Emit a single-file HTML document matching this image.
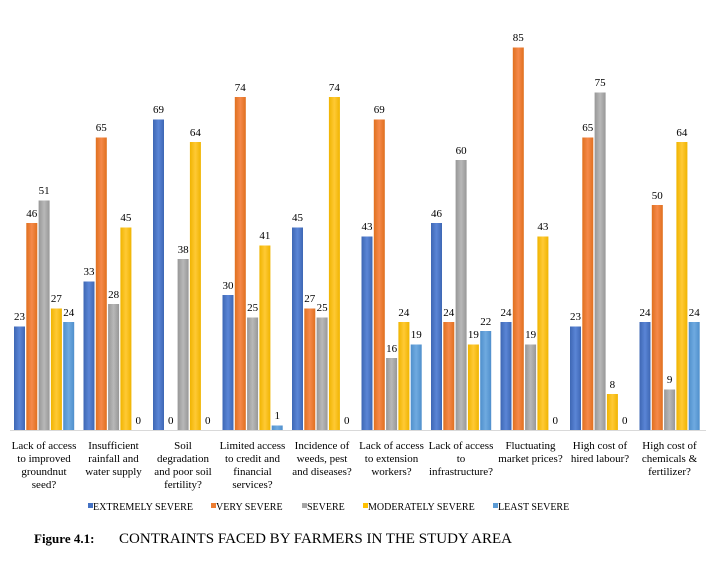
<!DOCTYPE html>
<html><head><meta charset="utf-8"><style>
body{margin:0;background:#fff}
svg{display:block;font-family:"Liberation Serif",serif}
</style></head><body>
<svg width="719" height="580" xmlns="http://www.w3.org/2000/svg">
<defs>
<linearGradient id="b1" x1="0" x2="1"><stop offset="0" stop-color="#3e67b4"/><stop offset=".5" stop-color="#5a85d6"/><stop offset="1" stop-color="#3e67b4"/></linearGradient>
<linearGradient id="b2" x1="0" x2="1"><stop offset="0" stop-color="#e0701f"/><stop offset=".5" stop-color="#f5894a"/><stop offset="1" stop-color="#e0701f"/></linearGradient>
<linearGradient id="b3" x1="0" x2="1"><stop offset="0" stop-color="#979797"/><stop offset=".5" stop-color="#b8b8b8"/><stop offset="1" stop-color="#979797"/></linearGradient>
<linearGradient id="b4" x1="0" x2="1"><stop offset="0" stop-color="#f0b400"/><stop offset=".5" stop-color="#ffc935"/><stop offset="1" stop-color="#f0b400"/></linearGradient>
<linearGradient id="b5" x1="0" x2="1"><stop offset="0" stop-color="#4f8fcc"/><stop offset=".5" stop-color="#6faae0"/><stop offset="1" stop-color="#4f8fcc"/></linearGradient>
</defs>
<line x1="10" y1="430.5" x2="706" y2="430.5" stroke="#d9d9d9"/>
<g font-size="11" text-anchor="middle" fill="#000">
<g transform="translate(14,0)">
<rect x="0" y="326.5" width="11" height="103.5" fill="url(#b1)"/><rect x="12.3" y="223" width="11" height="207" fill="url(#b2)"/><rect x="24.6" y="200.5" width="11" height="229.5" fill="url(#b3)"/><rect x="36.9" y="308.5" width="11" height="121.5" fill="url(#b4)"/><rect x="49.2" y="322" width="11" height="108" fill="url(#b5)"/>
<text x="5.5" y="320">23</text><text x="17.8" y="217">46</text><text x="30.1" y="194">51</text><text x="42.4" y="302">27</text><text x="54.7" y="316">24</text>
<text x="30" y="449">Lack of access</text><text x="30" y="462">to improved</text><text x="30" y="475">groundnut</text><text x="30" y="488">seed?</text>
</g>
<g transform="translate(83.5,0)">
<rect x="0" y="281.5" width="11" height="148.5" fill="url(#b1)"/><rect x="12.3" y="137.5" width="11" height="292.5" fill="url(#b2)"/><rect x="24.6" y="304" width="11" height="126" fill="url(#b3)"/><rect x="36.9" y="227.5" width="11" height="202.5" fill="url(#b4)"/>
<text x="5.5" y="275">33</text><text x="17.8" y="131">65</text><text x="30.1" y="298">28</text><text x="42.4" y="221">45</text><text x="54.7" y="424">0</text>
<text x="30" y="449">Insufficient</text><text x="30" y="462">rainfall and</text><text x="30" y="475">water supply</text>
</g>
<g transform="translate(153,0)">
<rect x="0" y="119.5" width="11" height="310.5" fill="url(#b1)"/><rect x="24.6" y="259" width="11" height="171" fill="url(#b3)"/><rect x="36.9" y="142" width="11" height="288" fill="url(#b4)"/>
<text x="5.5" y="113">69</text><text x="17.8" y="424">0</text><text x="30.1" y="253">38</text><text x="42.4" y="136">64</text><text x="54.7" y="424">0</text>
<text x="30" y="449">Soil</text><text x="30" y="462">degradation</text><text x="30" y="475">and poor soil</text><text x="30" y="488">fertility?</text>
</g>
<g transform="translate(222.5,0)">
<rect x="0" y="295" width="11" height="135" fill="url(#b1)"/><rect x="12.3" y="97" width="11" height="333" fill="url(#b2)"/><rect x="24.6" y="317.5" width="11" height="112.5" fill="url(#b3)"/><rect x="36.9" y="245.5" width="11" height="184.5" fill="url(#b4)"/><rect x="49.2" y="425.5" width="11" height="4.5" fill="url(#b5)"/>
<text x="5.5" y="289">30</text><text x="17.8" y="91">74</text><text x="30.1" y="311">25</text><text x="42.4" y="239">41</text><text x="54.7" y="419">1</text>
<text x="30" y="449">Limited access</text><text x="30" y="462">to credit and</text><text x="30" y="475">financial</text><text x="30" y="488">services?</text>
</g>
<g transform="translate(292,0)">
<rect x="0" y="227.5" width="11" height="202.5" fill="url(#b1)"/><rect x="12.3" y="308.5" width="11" height="121.5" fill="url(#b2)"/><rect x="24.6" y="317.5" width="11" height="112.5" fill="url(#b3)"/><rect x="36.9" y="97" width="11" height="333" fill="url(#b4)"/>
<text x="5.5" y="221">45</text><text x="17.8" y="302">27</text><text x="30.1" y="311">25</text><text x="42.4" y="91">74</text><text x="54.7" y="424">0</text>
<text x="30" y="449">Incidence of</text><text x="30" y="462">weeds, pest</text><text x="30" y="475">and diseases?</text>
</g>
<g transform="translate(361.5,0)">
<rect x="0" y="236.5" width="11" height="193.5" fill="url(#b1)"/><rect x="12.3" y="119.5" width="11" height="310.5" fill="url(#b2)"/><rect x="24.6" y="358" width="11" height="72" fill="url(#b3)"/><rect x="36.9" y="322" width="11" height="108" fill="url(#b4)"/><rect x="49.2" y="344.5" width="11" height="85.5" fill="url(#b5)"/>
<text x="5.5" y="230">43</text><text x="17.8" y="113">69</text><text x="30.1" y="352">16</text><text x="42.4" y="316">24</text><text x="54.7" y="338">19</text>
<text x="30" y="449">Lack of access</text><text x="30" y="462">to extension</text><text x="30" y="475">workers?</text>
</g>
<g transform="translate(431,0)">
<rect x="0" y="223" width="11" height="207" fill="url(#b1)"/><rect x="12.3" y="322" width="11" height="108" fill="url(#b2)"/><rect x="24.6" y="160" width="11" height="270" fill="url(#b3)"/><rect x="36.9" y="344.5" width="11" height="85.5" fill="url(#b4)"/><rect x="49.2" y="331" width="11" height="99" fill="url(#b5)"/>
<text x="5.5" y="217">46</text><text x="17.8" y="316">24</text><text x="30.1" y="154">60</text><text x="42.4" y="338">19</text><text x="54.7" y="325">22</text>
<text x="30" y="449">Lack of access</text><text x="30" y="462">to</text><text x="30" y="475">infrastructure?</text>
</g>
<g transform="translate(500.5,0)">
<rect x="0" y="322" width="11" height="108" fill="url(#b1)"/><rect x="12.3" y="47.5" width="11" height="382.5" fill="url(#b2)"/><rect x="24.6" y="344.5" width="11" height="85.5" fill="url(#b3)"/><rect x="36.9" y="236.5" width="11" height="193.5" fill="url(#b4)"/>
<text x="5.5" y="316">24</text><text x="17.8" y="41">85</text><text x="30.1" y="338">19</text><text x="42.4" y="230">43</text><text x="54.7" y="424">0</text>
<text x="30" y="449">Fluctuating</text><text x="30" y="462">market prices?</text>
</g>
<g transform="translate(570,0)">
<rect x="0" y="326.5" width="11" height="103.5" fill="url(#b1)"/><rect x="12.3" y="137.5" width="11" height="292.5" fill="url(#b2)"/><rect x="24.6" y="92.5" width="11" height="337.5" fill="url(#b3)"/><rect x="36.9" y="394" width="11" height="36" fill="url(#b4)"/>
<text x="5.5" y="320">23</text><text x="17.8" y="131">65</text><text x="30.1" y="86">75</text><text x="42.4" y="388">8</text><text x="54.7" y="424">0</text>
<text x="30" y="449">High cost of</text><text x="30" y="462">hired labour?</text>
</g>
<g transform="translate(639.5,0)">
<rect x="0" y="322" width="11" height="108" fill="url(#b1)"/><rect x="12.3" y="205" width="11" height="225" fill="url(#b2)"/><rect x="24.6" y="389.5" width="11" height="40.5" fill="url(#b3)"/><rect x="36.9" y="142" width="11" height="288" fill="url(#b4)"/><rect x="49.2" y="322" width="11" height="108" fill="url(#b5)"/>
<text x="5.5" y="316">24</text><text x="17.8" y="199">50</text><text x="30.1" y="383">9</text><text x="42.4" y="136">64</text><text x="54.7" y="316">24</text>
<text x="30" y="449">High cost of</text><text x="30" y="462">chemicals &amp;</text><text x="30" y="475">fertilizer?</text>
</g>
</g>
<g font-size="10" fill="#000">
<rect x="88" y="503" width="5" height="5" fill="#4472c4"/><text x="93" y="510" textLength="100" lengthAdjust="spacingAndGlyphs">EXTREMELY SEVERE</text>
<rect x="211" y="503" width="5" height="5" fill="#ed7d31"/><text x="216" y="510">VERY SEVERE</text>
<rect x="302" y="503" width="5" height="5" fill="#a5a5a5"/><text x="307" y="510">SEVERE</text>
<rect x="363" y="503" width="5" height="5" fill="#ffc000"/><text x="368" y="510">MODERATELY SEVERE</text>
<rect x="493" y="503" width="5" height="5" fill="#5b9bd5"/><text x="498" y="510">LEAST SEVERE</text>
</g>
<text x="34" y="543" font-size="13" font-weight="bold">Figure 4.1:</text>
<text x="119" y="543" font-size="14.5" textLength="393" lengthAdjust="spacingAndGlyphs">CONTRAINTS FACED BY FARMERS IN THE STUDY AREA</text>
</svg>
</body></html>
